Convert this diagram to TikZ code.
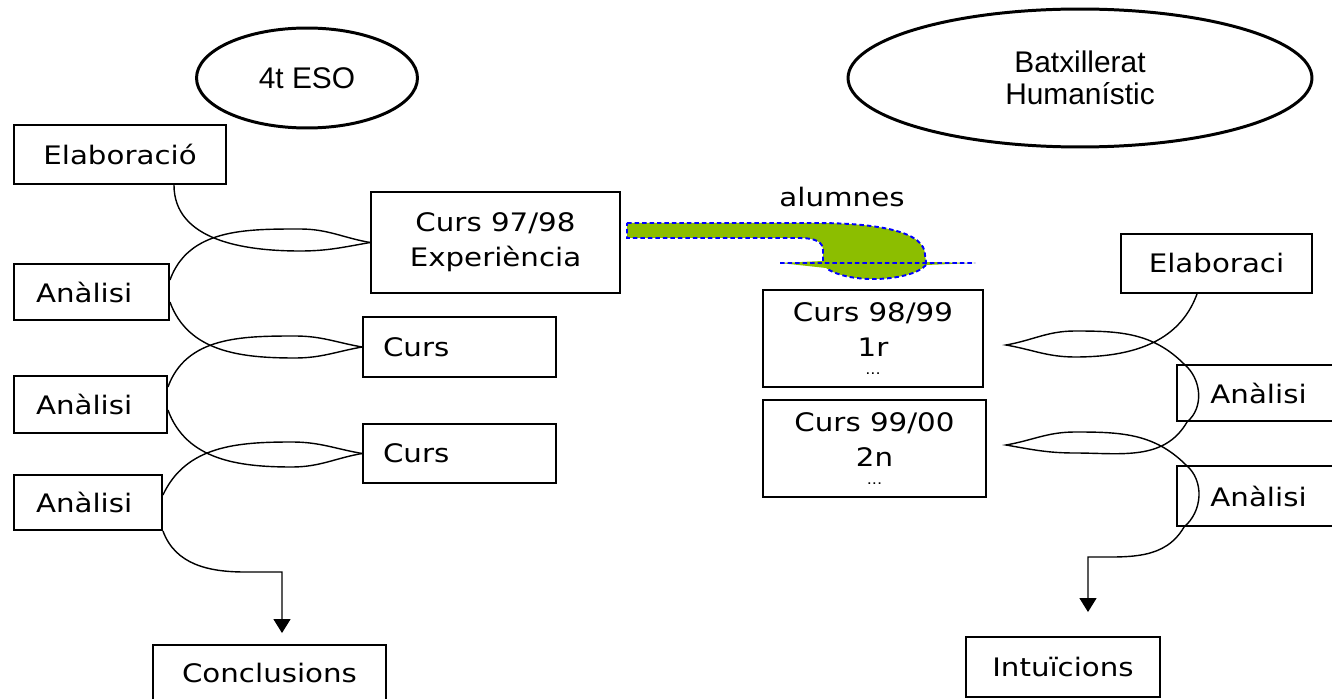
\documentclass[tikz,border=0pt]{standalone}
\usepackage{fontspec}
\newfontfamily\boxfont{DejaVu Sans}[FakeStretch=1.15]
\newfontfamily\ovalfont{Liberation Sans}
\usetikzlibrary{arrows.meta,shapes.geometric}
\definecolor{leaf}{RGB}{140,190,0}

\begin{document}
\begin{tikzpicture}[x=0.02cm, y=-0.02cm,
    box/.style={draw, line width=1.1pt, inner sep=0pt, align=center,
      font=\boxfont\fontsize{14.5}{19.9}\selectfont},
    oval/.style={ellipse, draw, line width=1.7pt, inner sep=0pt, align=center,
      font=\ovalfont\fontsize{17}{18.2}\selectfont},
    link/.style={line width=0.8pt},
    tolink/.style={line width=0.8pt, -{Triangle[length=0.28cm,width=0.34cm]}}]
  \useasboundingbox (0,0) rectangle (1332,699);

  % headings
  \node[oval, minimum width=4.42cm, minimum height=2cm] (eso) at (307,78) {4t ESO};
  \node[oval, minimum width=9.28cm, minimum height=2.76cm] (batx) at (1080,78) {Batxillerat\\Humanístic};

  % 4t ESO side
  \node[box, minimum width=4.24cm, minimum height=1.18cm] (elab) at (120,154.5) {Elaboració};
  \node[box, minimum width=4.98cm, minimum height=2.02cm] (c97) at (495.5,242.5) {Curs 97/98\\Experiència};
  \node[box, minimum width=3.1cm, minimum height=1.12cm, inner xsep=0.44cm, text width=2.22cm, align=left] (an1) at (91.5,292) {Anàlisi};
  \node[box, minimum width=3.86cm, minimum height=1.2cm, inner xsep=0.4cm, text width=3.06cm, align=left] (c2) at (459.5,347) {Curs};
  \node[box, minimum width=3.06cm, minimum height=1.14cm, inner xsep=0.44cm, text width=2.18cm, align=left] (an2) at (90.5,404.5) {Anàlisi};
  \node[box, minimum width=3.86cm, minimum height=1.18cm, inner xsep=0.4cm, text width=3.06cm, align=left] (c3) at (459.5,453.5) {Curs};
  \node[box, minimum width=2.96cm, minimum height=1.1cm, inner xsep=0.44cm, text width=2.08cm, align=left] (an3) at (88,502.5) {Anàlisi};
  \node[box, minimum width=4.66cm, minimum height=1.12cm] (conc) at (269.5,673) {Conclusions};

  % Batxillerat side
  \node[box, minimum width=4.4cm, minimum height=1.94cm] (c98) at (873,338.5) {Curs 98/99\\1r\\[-10pt]{\fontsize{8}{8}\selectfont ...}};
  \node[box, minimum width=4.46cm, minimum height=1.94cm] (c99) at (874.5,448.5) {Curs 99/00\\2n\\[-10pt]{\fontsize{8}{8}\selectfont ...}};
  \node[box, minimum width=3.82cm, minimum height=1.18cm] (elr) at (1216.5,263.5) {Elaboraci};
  \node[box, minimum width=3.26cm, minimum height=1.12cm] (anr1) at (1258.5,393) {Anàlisi};
  \node[box, minimum width=3.26cm, minimum height=1.2cm] (anr2) at (1258.5,496) {Anàlisi};
  \node[box, minimum width=3.88cm, minimum height=1.2cm] (intu) at (1063,667) {Intuïcions};

  \node[font=\boxfont\fontsize{14.5}{19.9}\selectfont] (alum) at (842,197) {alumnes};

  % green arrow
  \fill[leaf] (627,223) -- (815,223) .. controls (880,223) and (925,232) .. (925,255)
    -- (926,262) -- (975,263) -- (926,265) .. controls (912,281) and (850,285) .. (826,268)
    -- (780,263) -- (823,261) -- (823,250) .. controls (823,242) and (815,238) .. (800,238)
    -- (627,238) -- cycle;
  \draw[blue, line width=1.1pt, dash pattern=on 0.09cm off 0.06cm]
    (627,223) -- (815,223) .. controls (880,223) and (925,232) .. (925,255) -- (926,262)
    (780,263) -- (975,263)
    (926,265) .. controls (912,281) and (850,285) .. (826,268)
    (823,261) -- (823,250) .. controls (823,242) and (815,238) .. (800,238) -- (627,238) -- (627,223);

  % lens points
  \coordinate (loA) at (300,251);   \coordinate (hiA) at (300,229);
  \coordinate (loB) at (295,358);   \coordinate (hiB) at (295,336);
  \coordinate (loC) at (292,467);   \coordinate (hiC) at (292,442);
  \coordinate (lbend) at (245,572);
  \coordinate (tipR1) at (1006,345); \coordinate (loR1) at (1075,357); \coordinate (hiR1) at (1075,331);
  \coordinate (tipR2) at (1006,445); \coordinate (loR2) at (1075,453); \coordinate (hiR2) at (1075,432);
  \coordinate (rbend) at (1093,557);

  % left loops
  \draw[link] ([xshift=1.08cm]elab.south) to[out=-90,in=180] (loA) to[out=0,in=190] (c97.west);
  \draw[link] (c97.west) to[out=170,in=0] (hiA) to[out=180,in=70] ([yshift=0.24cm]an1.east);
  \draw[link] ([yshift=-0.2cm]an1.east) to[out=-70,in=180] (loB) to[out=0,in=190] (c2.west);
  \draw[link] (c2.west) to[out=170,in=0] (hiB) to[out=180,in=70] ([yshift=0.35cm]an2.east);
  \draw[link] ([yshift=-0.11cm]an2.east) to[out=-70,in=180] (loC) to[out=0,in=190] (c3.west);
  \draw[link] (c3.west) to[out=170,in=0] (hiC) to[out=180,in=65] ([yshift=0.15cm]an3.east);
  \draw[tolink] (an3.south east) to[out=-70,in=180] (lbend) -| ([xshift=0.25cm,yshift=0.22cm]conc.north);

  % right loops
  \draw[link] ([xshift=-0.39cm]elr.south) to[out=-110,in=0] (loR1) to[out=180,in=-10] (tipR1)
    to[out=10,in=180] (hiR1) to[out=0,in=135] ([xshift=0.16cm]anr1.north west);
  \draw[link] ([xshift=0.16cm]anr1.north west) to[out=-40,in=40] ([xshift=0.22cm]anr1.south west);
  \draw[link] ([xshift=0.22cm]anr1.south west) to[out=-120,in=0] (loR2) to[out=180,in=-10] (tipR2)
    to[out=10,in=180] (hiR2) to[out=0,in=135] ([xshift=0.2cm]anr2.north west);
  \draw[link] ([xshift=0.2cm]anr2.north west) to[out=-40,in=40] ([xshift=0.16cm]anr2.south west);
  \draw[tolink] ([xshift=0.16cm]anr2.south west) to[out=-120,in=0] (rbend) -| ([xshift=0.5cm,yshift=0.48cm]intu.north);
\end{tikzpicture}
\end{document}
